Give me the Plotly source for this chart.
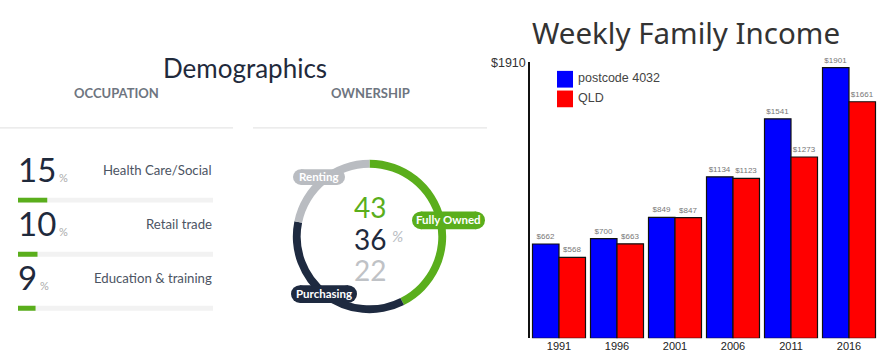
import plotly.graph_objects as go

# ---------------- data ----------------
occupation_labels = ["Health Care/Social", "Retail trade", "Education & training"]
occupation_pct = [15, 10, 9]

ownership_labels = ["Fully Owned", "Purchasing", "Renting"]
ownership_pct = [43, 36, 22]

years = ["1991", "1996", "2001", "2006", "2011", "2016"]
postcode_income = [662, 700, 849, 1134, 1541, 1901]
qld_income = [568, 663, 847, 1123, 1273, 1661]
series_names = ["postcode 4032", "QLD"]
y_tick_vals = [1910]
y_tick_text = ["$1910"]

# ---------------- helpers ----------------
W, H = 889, 354
def px(x):
    return x / W
def py(y):
    return 1 - y / H

GREEN = "#5aae1c"
NAVY = "#1e2a40"
GRAY = "#b9bcc1"
DARK = "#1f2a3c"
SANS = "Lato"
TS = 5  # text lift

fig = go.Figure()

# ---------- weekly income bars ----------
fig.add_trace(go.Bar(
    x=years, y=postcode_income, name=series_names[0],
    marker=dict(color="#0000ff", line=dict(color="#111111", width=1.2)),
    texttemplate="$%{y}", textposition="outside", cliponaxis=False,
    textfont=dict(size=8, color="#777777", family="Liberation Sans"),
    xaxis="x", yaxis="y", showlegend=False,
))
fig.add_trace(go.Bar(
    x=years, y=qld_income, name=series_names[1],
    marker=dict(color="#ff0000", line=dict(color="#111111", width=1.2)),
    texttemplate="$%{y}", textposition="outside", cliponaxis=False,
    textfont=dict(size=8, color="#777777", family="Liberation Sans"),
    xaxis="x", yaxis="y", showlegend=False,
))

# ---------- occupation progress bars ----------
fig.add_trace(go.Bar(
    x=occupation_pct, y=list(range(len(occupation_pct))), orientation="h",
    width=5 / 55, marker=dict(color=GREEN, line=dict(width=0)),
    xaxis="x2", yaxis="y2", showlegend=False, hoverinfo="skip",
))

# ---------- ownership donut ----------
cx, cy, R = 369.5, 234.5, 78
fig.add_trace(go.Pie(
    labels=ownership_labels, values=ownership_pct, sort=False,
    direction="clockwise", rotation=0, hole=70 / 78,
    marker=dict(colors=[GREEN, NAVY, GRAY], line=dict(width=0)),
    textinfo="none", showlegend=False,
    domain=dict(x=[px(cx - R), px(cx + R)], y=[py(cy + R), py(cy - R)]),
))

shapes = []
annotations = []

# track shapes behind the progress bars
for i in range(len(occupation_pct)):
    shapes.append(dict(type="rect", xref="x2", yref="y2", x0=0, x1=100,
                       y0=i - 2.5 / 55, y1=i + 2.5 / 55,
                       fillcolor="#f2f2f2", line=dict(width=0), layer="below"))

# divider lines
shapes.append(dict(type="line", xref="paper", yref="paper", x0=px(0), x1=px(233),
                   y0=py(124), y1=py(124), line=dict(color="#e6e6e6", width=1.2)))
shapes.append(dict(type="line", xref="paper", yref="paper", x0=px(253), x1=px(487),
                   y0=py(124), y1=py(124), line=dict(color="#e6e6e6", width=1.2)))

# titles
annotations.append(dict(text="Demographics", x=px(245), y=py(68 - TS), xref="paper", yref="paper",
                        showarrow=False, xanchor="center", yanchor="middle",
                        font=dict(family=SANS, size=26, color=DARK)))
annotations.append(dict(text="<b>OCCUPATION</b>", x=px(116), y=py(94 - TS), xref="paper", yref="paper",
                        showarrow=False, xanchor="center", yanchor="middle",
                        font=dict(family=SANS, size=13, color="#6e7580")))
annotations.append(dict(text="<b>OWNERSHIP</b>", x=px(370), y=py(94 - TS), xref="paper", yref="paper",
                        showarrow=False, xanchor="center", yanchor="middle",
                        font=dict(family=SANS, size=13, color="#6e7580")))

# occupation rows
row_y = [171, 226, 281]
for lab, val, yy in zip(occupation_labels, occupation_pct, row_y):
    annotations.append(dict(
        text=f"{val}<span style='font-size:11px;color:#aaaaaa'> %</span>",
        x=px(16), y=py(yy - TS), xref="paper", yref="paper", showarrow=False,
        xanchor="left", yanchor="middle", font=dict(family=SANS, size=33, color=DARK)))
    annotations.append(dict(
        text=lab, x=px(214), y=py(yy - TS + 1), xref="paper", yref="paper", showarrow=False,
        xanchor="right", yanchor="middle", font=dict(family=SANS, size=13.2, color="#4c5463")))

# donut centre numbers
center_colors = [GREEN, DARK, "#bfc2c6"]
center_y = [208, 241, 273]
for v, c, yy in zip(ownership_pct, center_colors, center_y):
    annotations.append(dict(text=str(v), x=px(370), y=py(yy - 4), xref="paper", yref="paper",
                            showarrow=False, xanchor="center", yanchor="middle",
                            font=dict(family=SANS, size=28, color=c)))
annotations.append(dict(text="<i>%</i>", x=px(390), y=py(238 - 4), xref="paper", yref="paper",
                        showarrow=False, xanchor="left", yanchor="middle",
                        font=dict(family=SANS, size=15, color="#b8bcc2")))

# pill badges
def pill(x0, x1, y0, y1, color):
    r = (y1 - y0) / 2
    shapes.append(dict(type="rect", xref="paper", yref="paper", x0=px(x0 + r), x1=px(x1 - r),
                       y0=py(y1), y1=py(y0), fillcolor=color, line=dict(width=0), layer="above"))
    shapes.append(dict(type="circle", xref="paper", yref="paper", x0=px(x0), x1=px(x0 + 2 * r),
                       y0=py(y1), y1=py(y0), fillcolor=color, line=dict(width=0), layer="above"))
    shapes.append(dict(type="circle", xref="paper", yref="paper", x0=px(x1 - 2 * r), x1=px(x1),
                       y0=py(y1), y1=py(y0), fillcolor=color, line=dict(width=0), layer="above"))

badges = [
    (ownership_labels[2], 293, 345, 166, 182, GRAY),
    (ownership_labels[0], 412, 485, 209, 227, GREEN),
    (ownership_labels[1], 291, 357, 284, 302, NAVY),
]
for lab, x0, x1, y0, y1, col in badges:
    pill(x0, x1, y0, y1, col)
    annotations.append(dict(text=f"<b>{lab}</b>", x=px((x0 + x1) / 2), y=py((y0 + y1) / 2 - 1),
                            xref="paper", yref="paper", showarrow=False,
                            xanchor="center", yanchor="middle",
                            font=dict(family=SANS, size=11.5, color="white")))

# chart title
annotations.append(dict(text="Weekly Family Income", x=px(686), y=py(27), xref="paper", yref="paper",
                        showarrow=False, xanchor="center", yanchor="middle",
                        font=dict(family="Noto Sans", size=29.5, color="#333333")))

# manual legend
legend_items = [(series_names[0], "#0000ff", 66), (series_names[1], "#ff0000", 86)]
for name, col, top in legend_items:
    shapes.append(dict(type="rect", xref="paper", yref="paper", x0=px(557), x1=px(573),
                       y0=py(top + 17), y1=py(top), fillcolor=col, line=dict(width=0)))
    annotations.append(dict(text=name, x=px(576), y=py(top + 7.5), xref="paper", yref="paper",
                            showarrow=False, xanchor="left", yanchor="middle",
                            font=dict(family="Liberation Sans", size=12.5, color="#444444")))

fig.update_layout(
    width=W, height=H, margin=dict(l=0, r=0, t=0, b=0),
    paper_bgcolor="white", plot_bgcolor="white",
    barmode="group", bargap=5 / 58, bargroupgap=0,
    xaxis=dict(domain=[px(530), px(878)], type="category", showline=False, showgrid=False,
               zeroline=False, ticks="", anchor="y",
               tickfont=dict(family="Liberation Sans", size=11, color="#222222")),
    yaxis=dict(domain=[py(338), py(57)], range=[0, 1940], showline=True, linecolor="#111111",
               linewidth=1.5, showgrid=False, zeroline=False, ticks="", anchor="x",
               tickvals=y_tick_vals, ticktext=y_tick_text, ticklabelshift=-4,
               tickfont=dict(family="Liberation Sans", size=12.5, color="#333333")),
    xaxis2=dict(domain=[px(18), px(213)], range=[0, 100], visible=False, anchor="y2", fixedrange=True),
    yaxis2=dict(domain=[py(335), py(170)], range=[2.5, -0.5], visible=False, anchor="x2", fixedrange=True),
    shapes=shapes, annotations=annotations,
)

fig.write_html("out.html")
